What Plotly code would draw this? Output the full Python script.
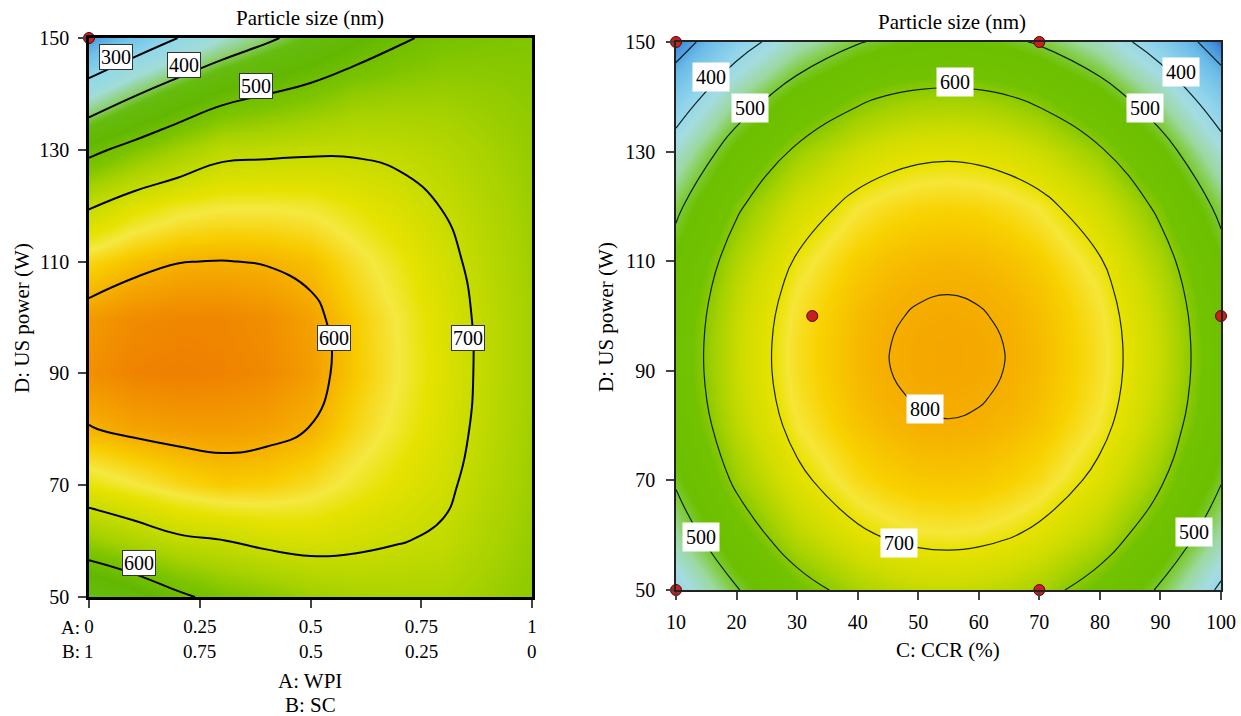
import plotly.graph_objects as go

FONT = "Liberation Serif"

# ---------------- Left panel: A: WPI / B: SC vs D: US power ----------------
left_A = [0, 0.1, 0.2, 0.3, 0.4, 0.5, 0.6, 0.7, 0.8, 0.9, 1.0]
left_D = [50, 60, 70, 80, 90, 100, 110, 120, 130, 140, 150]
left_z = [
    [416, 451, 489, 517, 531, 550, 561, 564, 565, 550, 535],   # D=50
    [544, 568, 590, 598, 612, 618, 611, 602, 593, 566, 543],   # D=60
    [638, 654, 670, 681, 678, 667, 648, 630, 610, 578, 549],   # D=70
    [698, 708, 713, 714, 710, 699, 672, 648, 621, 585, 553],   # D=80
    [723, 733, 735, 733, 728, 714, 683, 656, 625, 588, 555],   # D=90
    [715, 726, 730, 730, 724, 710, 680, 654, 623, 587, 555],   # D=100
    [672, 689, 699, 701, 698, 689, 665, 642, 614, 581, 552],   # D=110
    [595, 627, 645, 653, 654, 650, 636, 620, 598, 572, 548],   # D=120
    [484, 521, 555, 585, 589, 593, 594, 588, 576, 559, 542],   # D=130
    [339, 393, 440, 478, 499, 518, 539, 545, 548, 542, 534],   # D=140
    [200, 250, 300, 350, 389, 426, 462, 493, 513, 520, 525],   # D=150
]
left_x_tickvals = [0, 0.25, 0.5, 0.75, 1]
left_x_tick_A = ["0", "0.25", "0.5", "0.75", "1"]
left_x_tick_B = ["1", "0.75", "0.5", "0.25", "0"]
left_labels = ["300", "400", "500", "600", "700", "600"]
left_label_A = [0.061, 0.214, 0.377, 0.553, 0.856, 0.113]
left_label_D = [146.6, 145.2, 141.4, 96.3, 96.3, 56.1]
left_pts_A = [0]
left_pts_D = [150]

# ---------------- Right panel: C: CCR vs D: US power ----------------
right_C = [10, 20, 30, 40, 45, 50, 55, 60, 65, 70, 80, 90, 100]
right_D = [50, 60, 70, 80, 85, 90, 95, 100, 105, 110, 120, 130, 140, 150]
right_z = [
    [394, 496, 573, 624, 639, 649, 652, 648, 638, 622, 570, 492, 389],  # 50
    [460, 562, 639, 690, 705, 715, 718, 714, 704, 688, 636, 559, 455],  # 60
    [508, 611, 687, 738, 754, 763, 766, 763, 753, 737, 685, 607, 504],  # 70
    [539, 642, 718, 769, 785, 795, 798, 794, 784, 768, 716, 638, 535],  # 80
    [548, 651, 727, 778, 794, 803, 806, 803, 793, 777, 725, 647, 544],  # 85
    [553, 655, 732, 783, 799, 808, 811, 808, 798, 781, 729, 652, 548],  # 90
    [553, 655, 732, 783, 799, 808, 811, 808, 798, 781, 729, 652, 548],  # 95
    [549, 651, 728, 779, 795, 804, 807, 803, 794, 777, 725, 648, 544],  # 100
    [540, 643, 719, 770, 786, 795, 798, 795, 785, 769, 717, 639, 536],  # 105
    [527, 630, 706, 757, 773, 782, 785, 782, 772, 756, 704, 626, 523],  # 110
    [488, 591, 667, 718, 734, 743, 746, 743, 733, 717, 665, 587, 484],  # 120
    [432, 534, 611, 661, 677, 687, 690, 686, 676, 660, 608, 530, 427],  # 130
    [357, 460, 536, 587, 603, 612, 615, 612, 602, 586, 534, 456, 353],  # 140
    [266, 368, 445, 496, 511, 521, 524, 520, 510, 494, 442, 364, 261],  # 150
]
right_labels = ["400", "500", "600", "400", "500", "800", "700", "500", "500"]
right_label_C = [15.8, 22.2, 56.1, 93.4, 87.4, 51.1, 46.8, 14.1, 95.5]
right_label_D = [143.6, 138.0, 142.7, 144.5, 138.0, 83.0, 58.6, 59.7, 60.6]
right_pts_C = [10, 70, 32.5, 100, 10, 70]
right_pts_D = [150, 150, 100, 100, 50, 50]

y_ticks = [50, 70, 90, 110, 130, 150]

left_cmin, left_cmax = 170, 735
left_scale = [
    [0.000, "#2a6cc8"], [0.050, "#4a98e0"], [0.124, "#6cc0e8"], [0.230, "#90d8ea"],
    [0.319, "#a2dcd6"], [0.389, "#8cd070"], [0.442, "#66bc10"], [0.531, "#62b800"],
    [0.619, "#7cc400"], [0.690, "#a8d200"], [0.761, "#c8dc00"], [0.823, "#e6e200"],
    [0.860, "#f5e840"], [0.903, "#f8cc00"], [0.947, "#f5a800"], [1.000, "#ef8000"],
]
right_cmin, right_cmax = 261, 812
right_scale = [
    [0.000, "#2a6cc8"], [0.025, "#3f8fdc"], [0.107, "#6cbce8"], [0.216, "#90d4ec"],
    [0.289, "#a4dce0"], [0.361, "#9cd8a0"], [0.416, "#80cc40"], [0.470, "#6cc000"],
    [0.579, "#72c200"], [0.652, "#a6d200"], [0.724, "#cedc00"], [0.797, "#e8e200"],
    [0.833, "#f6e638"], [0.887, "#f8d200"], [0.960, "#f6b400"], [1.000, "#f5a600"],
]

fig = go.Figure()

fig.add_trace(go.Contour(
    x=left_A, y=left_D, z=left_z, xaxis="x", yaxis="y",
    colorscale=left_scale, zmin=left_cmin, zmax=left_cmax, showscale=False,
    contours=dict(coloring="heatmap", start=300, end=700, size=100, showlabels=False),
    line=dict(color="black", width=2, smoothing=1.3), hoverinfo="skip",
))
fig.add_trace(go.Contour(
    x=right_C, y=right_D, z=right_z, xaxis="x2", yaxis="y2",
    colorscale=right_scale, zmin=right_cmin, zmax=right_cmax, showscale=False,
    contours=dict(coloring="heatmap", start=300, end=800, size=100, showlabels=False),
    line=dict(color="rgba(0,15,15,0.9)", width=1.2, smoothing=1.3), hoverinfo="skip",
))

dot = dict(size=11, color="#c8201e", line=dict(color="#5a0000", width=1))
fig.add_trace(go.Scatter(x=left_pts_A, y=left_pts_D, xaxis="x", yaxis="y", mode="markers",
                         marker=dot, cliponaxis=False, showlegend=False, hoverinfo="skip"))
fig.add_trace(go.Scatter(x=right_pts_C, y=right_pts_D, xaxis="x2", yaxis="y2", mode="markers",
                         marker=dot, cliponaxis=False, showlegend=False, hoverinfo="skip"))

W, H = 1241, 716
def px_x(p): return p / W
def px_y(p): return 1 - p / H

FS = 20
tickfont = dict(family=FONT, size=FS, color="black")
mixfont = dict(family=FONT, size=19, color="black")
axis_common = dict(showgrid=False, zeroline=False, ticks="outside", ticklen=8, tickwidth=2,
                   tickcolor="#444", showline=True, mirror=True, tickfont=tickfont,
                   automargin=False)

fig.update_layout(
    template="none", font=dict(family=FONT, size=FS, color="black"),
    width=W, height=H, margin=dict(l=0, r=0, t=0, b=0, pad=0, autoexpand=False),
    paper_bgcolor="white", plot_bgcolor="white", showlegend=False,
    xaxis=dict(axis_common, domain=[px_x(89), px_x(532)], range=[0, 1], anchor="y",
               tickvals=left_x_tickvals, ticktext=left_x_tick_A, linecolor="black",
               linewidth=2.5, ticklabelstandoff=2, tickfont=mixfont),
    yaxis=dict(axis_common, domain=[px_y(597), px_y(38)], range=[50, 150], anchor="x",
               tickvals=y_ticks, linecolor="black", linewidth=2.5, ticklabelstandoff=5),
    xaxis2=dict(axis_common, domain=[px_x(676), px_x(1221)], range=[10, 100], anchor="y2",
                tickvals=list(range(10, 101, 10)), linecolor="#222", linewidth=1.5,
                ticklabelstandoff=5),
    yaxis2=dict(axis_common, domain=[px_y(590), px_y(42)], range=[50, 150], anchor="x2",
                tickvals=y_ticks, linecolor="#222", linewidth=1.5, ticklabelstandoff=7),
)

ann = []
lab_font = dict(family=FONT, size=20, color="black")
for t, a, d in zip(left_labels, left_label_A, left_label_D):
    ann.append(dict(x=a, y=d, xref="x", yref="y", text=t, showarrow=False, font=lab_font,
                    xanchor="center", yanchor="middle",
                    bgcolor="white", bordercolor="#333", borderwidth=1, borderpad=1))
for t, c, d in zip(right_labels, right_label_C, right_label_D):
    ann.append(dict(x=c, y=d, xref="x2", yref="y2", text=t, showarrow=False, font=lab_font,
                    xanchor="center", yanchor="middle", bgcolor="white", borderpad=3))

# second row of mixture tick labels (component B)
for v, t in zip(left_x_tickvals, left_x_tick_B):
    ann.append(dict(x=v, y=px_y(651), xref="x", yref="paper", text=t, showarrow=False,
                    font=mixfont, xanchor="center", yanchor="middle"))

title_font = dict(family=FONT, size=21, color="black")
def txt(x, y, s, **kw):
    d = dict(x=px_x(x), y=px_y(y), xref="paper", yref="paper", text=s, showarrow=False,
             font=title_font, xanchor="center", yanchor="middle")
    d.update(kw)
    return d

ann += [
    txt(310, 18, "Particle size (nm)"),
    txt(952, 22, "Particle size (nm)"),
    txt(310, 681, "A: WPI"),
    txt(310, 705, "B: SC"),
    txt(948, 650, "C: CCR (%)"),
    txt(22, 318, "D: US power (W)", textangle=-90),
    txt(606, 317, "D: US power (W)", textangle=-90),
    dict(x=0, y=px_y(627), xref="x", yref="paper", text="A:", xanchor="right",
         yanchor="middle", xshift=-7, showarrow=False, font=mixfont),
    dict(x=0, y=px_y(651), xref="x", yref="paper", text="B:", xanchor="right",
         yanchor="middle", xshift=-7, showarrow=False, font=mixfont),
]
fig.update_layout(annotations=ann)

fig.write_html("out.html")
